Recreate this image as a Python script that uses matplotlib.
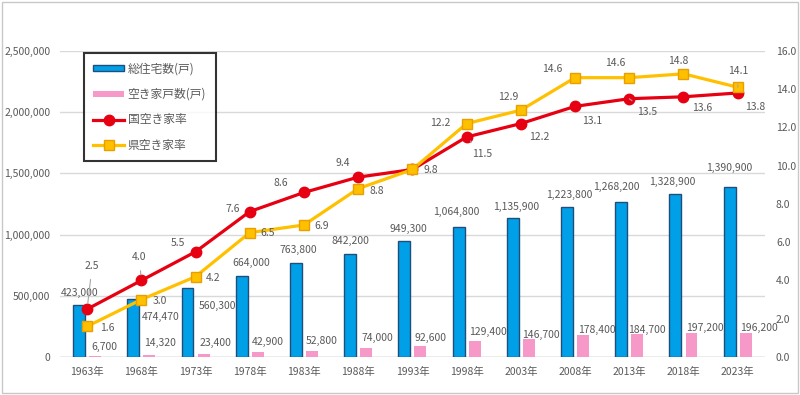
import numpy as np
import matplotlib
matplotlib.use("Agg")
import matplotlib.pyplot as plt
from matplotlib.patches import Rectangle

plt.rcParams['font.family'] = ['Noto Sans CJK JP', 'DejaVu Sans']

# データ
years = ['1963年', '1968年', '1973年', '1978年', '1983年', '1988年', '1993年',
         '1998年', '2003年', '2008年', '2013年', '2018年', '2023年']
total_houses = [423000, 474470, 560300, 664000, 763800, 842200, 949300,
                1064800, 1135900, 1223800, 1268200, 1328900, 1390900]
vacant_houses = [6700, 14320, 23400, 42900, 52800, 74000, 92600,
                 129400, 146700, 178400, 184700, 197200, 196200]
national_rate = [2.5, 4.0, 5.5, 7.6, 8.6, 9.4, 9.8, 11.5, 12.2, 13.1, 13.5, 13.6, 13.8]
pref_rate = [1.6, 3.0, 4.2, 6.5, 6.9, 8.8, 9.8, 12.2, 12.9, 14.6, 14.6, 14.8, 14.1]

# ラベル位置 (ピクセル単位のずらし)
total_off = [(1, 12), (27, -18), (30, -18), (10, 13), (2, 13), (0, 13), (4, 12),
             (-2, 15), (3, 11), (2, 12), (-5, 15), (-3, 12), (0, 19)]
vacant_off = [(9, 9), (11, 12), (12, 11), (10, 10), (10, 10), (11, 10), (10, 8),
              (13, 9), (12, 4), (14, 5), (10, 4), (13, 5), (13, 5)]
nat_off = [(5, 43), (-2, 23), (-18, 9), (-17, 3), (-23, 9), (-15, 14), None,
           (16, -17), (18, -13), (17, -15), (18, -13), (19, -11), (18, -14)]
pref_off = [(20, -2), (19, -1), (18, -1), (18, 0), (18, -1), (19, -2), (18, -1),
            (-26, 1), (-13, 13), (-23, 9), (-14, 15), (-5, 13), (1, 16)]
nat_leader = [1, 1, 0, 0, 0, 0, 0, 1, 0, 0, 1, 0, 0]
pref_leader = [0, 0, 0, 0, 0, 0, 0, 0, 0, 0, 0, 0, 1]

text_color = '#595959'
fs = 7.5

fig = plt.figure(figsize=(8, 3.95), dpi=100)
ax = fig.add_axes([0.075, 0.0962, 0.881, 0.775])
ax2 = ax.twinx()

x = np.arange(len(years))
w = 0.22
dx = 0.148

ax.bar(x - dx, total_houses, width=w, color='#00A0E9', edgecolor='#1F4E79',
       linewidth=1.0, label='総住宅数(戸)', zorder=2)
ax.bar(x + dx, vacant_houses, width=w, color='#F799C8', edgecolor='none',
       label='空き家戸数(戸)', zorder=2)

ax2.plot(x, national_rate, color='#E60012', lw=2.3, marker='o', markersize=7.5,
         markerfacecolor='#E60012', markeredgecolor='#E60012', label='国空き家率', zorder=3)
ax2.plot(x, pref_rate, color='#FFC000', lw=2.3, marker='s', markersize=7.5,
         markerfacecolor='#FFC000', markeredgecolor='#E8A000', label='県空き家率', zorder=4)

ax.set_xlim(-0.5, len(years) - 0.5)
ax.set_ylim(0, 2500000)
ax2.set_ylim(0, 16)
ax.set_yticks(np.arange(0, 2500001, 500000))
ax2.set_yticks(np.arange(0, 16.1, 2))
ax.set_yticklabels([f'{v:,}' for v in range(0, 2500001, 500000)])
ax2.set_yticklabels([f'{v:.1f}' for v in np.arange(0, 16.1, 2)])
ax.set_xticks(x)
ax.set_xticklabels(years)

for a in (ax, ax2):
    for s in a.spines.values():
        s.set_visible(False)
    a.tick_params(length=0, labelsize=fs, colors=text_color)
ax.tick_params(axis='y', pad=7)
ax2.tick_params(axis='y', pad=8)
ax.tick_params(axis='x', pad=7)
ax.grid(axis='y', color='#D9D9D9', lw=1.0, zorder=0)
ax.set_axisbelow(True)
ax.axhline(0, color='#BFBFBF', lw=1.0, zorder=1)

lead = dict(arrowstyle='-', color='#A6A6A6', lw=0.8, shrinkA=4, shrinkB=4)

for i in range(len(years)):
    ax.annotate(f'{total_houses[i]:,}', (x[i] - dx, total_houses[i]),
                xytext=total_off[i], textcoords='offset pixels',
                ha='center', va='center', fontsize=fs, color=text_color)
    ax.annotate(f'{vacant_houses[i]:,}', (x[i] + dx, vacant_houses[i]),
                xytext=vacant_off[i], textcoords='offset pixels',
                ha='center', va='center', fontsize=fs, color=text_color)
    if nat_off[i] is not None:
        ax2.annotate(f'{national_rate[i]:.1f}', (x[i], national_rate[i]),
                     xytext=nat_off[i], textcoords='offset pixels',
                     ha='center', va='center', fontsize=fs, color=text_color,
                     arrowprops=lead if nat_leader[i] else None, zorder=5)
    ax2.annotate(f'{pref_rate[i]:.1f}', (x[i], pref_rate[i]),
                 xytext=pref_off[i], textcoords='offset pixels',
                 ha='center', va='center', fontsize=fs, color=text_color,
                 arrowprops=lead if pref_leader[i] else None, zorder=5)

h1, l1 = ax.get_legend_handles_labels()
h2, l2 = ax2.get_legend_handles_labels()
leg = ax2.legend(h1 + h2, l1 + l2, loc='upper left', bbox_to_anchor=(0.034, 0.993),
                 fontsize=8.5, frameon=True, fancybox=False, edgecolor='black',
                 handlelength=2.6, handleheight=0.4, labelspacing=1.05,
                 borderpad=0.8, borderaxespad=0, handletextpad=0.3)
leg.get_frame().set_linewidth(1.5)
for t in leg.get_texts():
    t.set_color(text_color)

# 外枠
fig.patches.append(Rectangle((0.002, 0.004), 0.996, 0.992, transform=fig.transFigure,
                             fill=False, edgecolor='#C8C8C8', lw=1.0))

fig.savefig('out.png', dpi=100)
